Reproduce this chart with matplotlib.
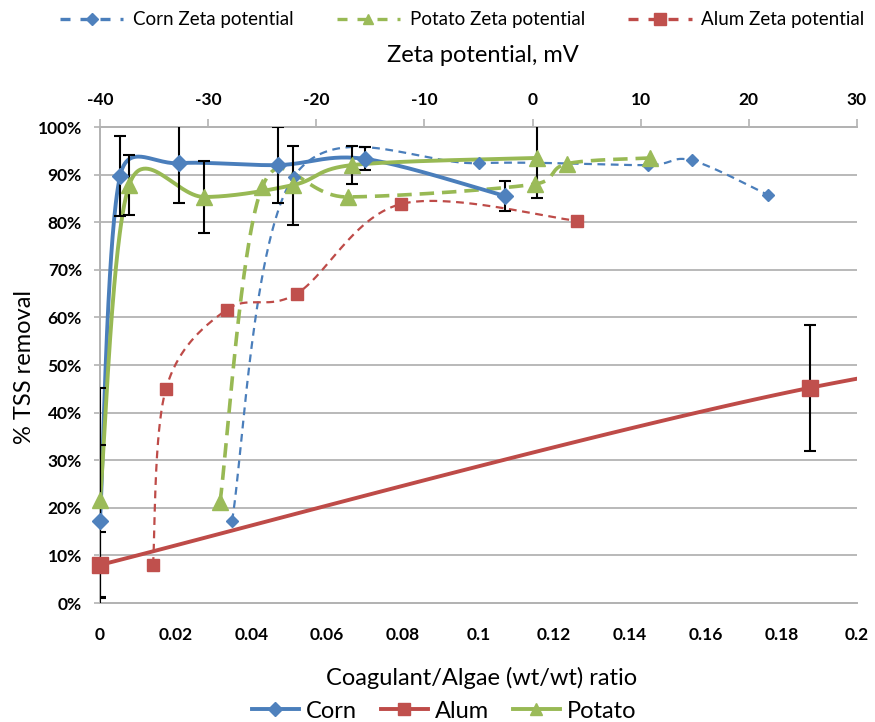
import numpy as np
import matplotlib
matplotlib.use('Agg')
import matplotlib.pyplot as plt
from matplotlib.lines import Line2D

plt.rcParams['font.family'] = ['Lato', 'DejaVu Sans']

# ---------------- data ----------------
# bottom axis: coagulant/algae ratio vs % TSS removal
corn_x = [0, 0.0053, 0.021, 0.047, 0.070, 0.107]
corn_y = [17.2, 89.7, 92.4, 92.0, 93.3, 85.5]
corn_err = [16.0, 8.4, 8.4, 8.0, 2.4, 3.2]

potato_x = [0, 0.0077, 0.0275, 0.051, 0.0666, 0.1154]
potato_y = [21.6, 87.8, 85.3, 87.8, 92.0, 93.5]
potato_err = [23.6, 6.3, 7.6, 8.3, 4.0, 8.5]

# last alum point lies beyond the visible axis range (line is clipped at 0.2)
alum_x = [0, 0.1875, 0.333]
alum_y = [8.0, 45.2, 61.6]
alum_err = [7.0, 13.3, np.nan]

# top axis: zeta potential (mV) vs % TSS removal
corn_zeta_x = [-27.8, -22.1, -5.0, 10.7, 14.7, 21.8]
corn_zeta_y = [17.2, 89.5, 92.4, 92.0, 93.0, 85.7]
potato_zeta_x = [-28.9, -25.0, -17.1, 0.2, 3.2, 10.9]
potato_zeta_y = [21.2, 87.4, 85.3, 88.0, 92.3, 93.5]
alum_zeta_x = [-35.1, -33.9, -28.3, -21.8, -12.2, 4.1]
alum_zeta_y = [8.0, 45.0, 61.6, 65.0, 83.8, 80.3]

bottom_ticks = [0, 0.02, 0.04, 0.06, 0.08, 0.1, 0.12, 0.14, 0.16, 0.18, 0.2]
bottom_labels = ['0', '0.02', '0.04', '0.06', '0.08', '0.1', '0.12', '0.14', '0.16', '0.18', '0.2']
top_ticks = [-40, -30, -20, -10, 0, 10, 20, 30]
y_ticks = [0, 10, 20, 30, 40, 50, 60, 70, 80, 90, 100]

BOT_LIM = (0, 0.2)
TOP_LIM = (-40, 30)

BLUE = '#4A7EBB'
RED = '#BE4B48'
GREEN = '#98B954'
GRID = '#B3B3B3'

fig = plt.figure(figsize=(8.75, 7.22), dpi=100)
ax = fig.add_axes([100 / 875, 1 - 603 / 722, 757 / 875, 476 / 722])
ax2 = ax.twiny()

ax.set_xlim(*BOT_LIM)
ax.set_ylim(0, 100)
ax2.set_xlim(*TOP_LIM)
ax2.set_ylim(0, 100)


def to_top(x):
    x = np.asarray(x, float)
    return TOP_LIM[0] + (x - BOT_LIM[0]) * (TOP_LIM[1] - TOP_LIM[0]) / (BOT_LIM[1] - BOT_LIM[0])


def smooth(xs, ys, n=60, cap=0.6):
    """Excel-like smoothed line computed in pixel space (cubic Bezier, 1/6 tangents)."""
    tr = ax2.transData
    P = tr.transform(np.column_stack([xs, ys]).astype(float))
    m = len(P)
    out = [P[0]]
    t = np.linspace(0, 1, n)[1:, None]
    for i in range(m - 1):
        p0 = P[i - 1] if i > 0 else P[i]
        p1 = P[i]
        p2 = P[i + 1]
        p3 = P[i + 2] if i + 2 < m else P[i + 1]
        d = np.hypot(*(p2 - p1))
        o1 = (p2 - p0) / 6.0
        o2 = (p3 - p1) / 6.0
        for o in (o1, o2):
            L = np.hypot(*o)
            if L > cap * d and L > 0:
                o *= cap * d / L
        c1 = p1 + o1
        c2 = p2 - o2
        seg = ((1 - t) ** 3) * p1 + 3 * ((1 - t) ** 2) * t * c1 + 3 * (1 - t) * t ** 2 * c2 + t ** 3 * p2
        out.extend(seg)
    out = tr.inverted().transform(np.array(out))
    return out[:, 0], out[:, 1]


for y in y_ticks[1:]:
    ax.axhline(y, color=GRID, lw=1.3, zorder=0)

for a in (ax, ax2):
    a.spines['right'].set_visible(False)
    for s in ['left', 'top', 'bottom']:
        a.spines[s].set_color(GRID)
        a.spines[s].set_linewidth(1.3)

ax.set_xticks(bottom_ticks)
ax.set_xticklabels(bottom_labels, fontsize=12.5, fontweight='bold')
ax.tick_params(axis='x', length=0, pad=17)
ax.set_yticks(y_ticks)
ax.set_yticklabels(['%d%%' % v for v in y_ticks], fontsize=12.5, fontweight='bold')
ax.tick_params(axis='y', length=4, color=GRID, width=1.2, pad=9)

ax2.set_xticks(top_ticks)
ax2.set_xticklabels([str(v) for v in top_ticks], fontsize=12.5, fontweight='bold')
ax2.tick_params(axis='x', length=6, color=GRID, width=1.2, pad=8)

# ---- zeta potential (top axis) dashed smoothed series ----
xs, ys = smooth(corn_zeta_x, corn_zeta_y)
ax2.plot(xs, ys, color=BLUE, lw=1.6, dashes=(3.5, 2.5), zorder=3)
ax2.plot(corn_zeta_x, corn_zeta_y, ls='none', marker='D', ms=6, color='#4F81BD',
         mec='#4F81BD', zorder=6, clip_on=False)

xs, ys = smooth(potato_zeta_x, potato_zeta_y)
ax2.plot(xs, ys, color=GREEN, lw=2.6, dashes=(4, 2.2), zorder=3)
ax2.plot(potato_zeta_x, potato_zeta_y, ls='none', marker='^', ms=11, color='#9BBB59',
         mec='#9BBB59', zorder=6, clip_on=False)

xs, ys = smooth(alum_zeta_x, alum_zeta_y)
ax2.plot(xs, ys, color=RED, lw=1.6, dashes=(3.5, 2.5), zorder=3)
ax2.plot(alum_zeta_x, alum_zeta_y, ls='none', marker='s', ms=8, color='#C0504D',
         mec='#C0504D', zorder=6, clip_on=False)


# ---- removal vs ratio (bottom axis) solid smoothed series ----
def solid(xd, yd, ed, color, mcolor, marker, ms):
    xt = to_top(xd)
    xs, ys = smooth(xt, yd)
    ax2.plot(xs, ys, color=color, lw=2.8, zorder=4, solid_capstyle='round')
    vis = np.asarray(xd) <= BOT_LIM[1]
    yv = np.asarray(yd)[vis]
    ev = np.asarray(ed)[vis]
    ax2.errorbar(xt[vis], yv, yerr=ev, fmt='none', ecolor='black', elinewidth=1.5,
                 capsize=4, capthick=1.5, zorder=5)
    ax2.plot(xt[vis], yv, ls='none', marker=marker, ms=ms, color=mcolor, mec=mcolor,
             zorder=7, clip_on=False)


solid(corn_x, corn_y, corn_err, BLUE, '#4F81BD', 'D', 8)
solid(alum_x, alum_y, alum_err, RED, '#C0504D', 's', 11)
solid(potato_x, potato_y, potato_err, GREEN, '#9BBB59', '^', 11)

ax2.set_xlim(*TOP_LIM)
ax2.set_ylim(0, 100)

# ---- axis titles ----
fig.text(483 / 875, 1 - 55 / 722, 'Zeta potential, mV', fontsize=17, ha='center', va='center')
fig.text(482 / 875, 1 - 678 / 722, 'Coagulant/Algae (wt/wt) ratio', fontsize=17,
         ha='center', va='center')
fig.text(25 / 875, 1 - 367 / 722, '% TSS removal', fontsize=17, rotation=90,
         ha='center', va='center')

# ---- legends ----
top_handles = [
    Line2D([], [], color=BLUE, lw=2.4, dashes=(3, 3), marker='D', ms=6, mfc='#4F81BD', mec='#4F81BD'),
    Line2D([], [], color=GREEN, lw=2.4, dashes=(3, 3), marker='^', ms=7, mfc='#9BBB59', mec='#9BBB59'),
    Line2D([], [], color=RED, lw=2.4, dashes=(3, 3), marker='s', ms=9, mfc='#C0504D', mec='#C0504D'),
]
fig.legend(top_handles, ['Corn Zeta potential', 'Potato Zeta potential', 'Alum Zeta potential'],
           loc='center', bbox_to_anchor=(462 / 875, 1 - 20 / 722), ncol=3, frameon=False,
           fontsize=13.5, handlelength=3.4, columnspacing=2.3, handletextpad=0.5, numpoints=1)

bot_handles = [
    Line2D([], [], color=BLUE, lw=2.8, marker='D', ms=7, mfc='#4F81BD', mec='#4F81BD'),
    Line2D([], [], color=RED, lw=2.8, marker='s', ms=8, mfc='#C0504D', mec='#C0504D'),
    Line2D([], [], color=GREEN, lw=2.8, marker='^', ms=8, mfc='#9BBB59', mec='#9BBB59'),
]
fig.legend(bot_handles, ['Corn', 'Alum', 'Potato'], loc='center',
           bbox_to_anchor=(444 / 875, 1 - 711 / 722), ncol=3, frameon=False,
           fontsize=17, handlelength=2.0, columnspacing=1.0, handletextpad=0.3, numpoints=1)

fig.savefig('out.png', dpi=100)
